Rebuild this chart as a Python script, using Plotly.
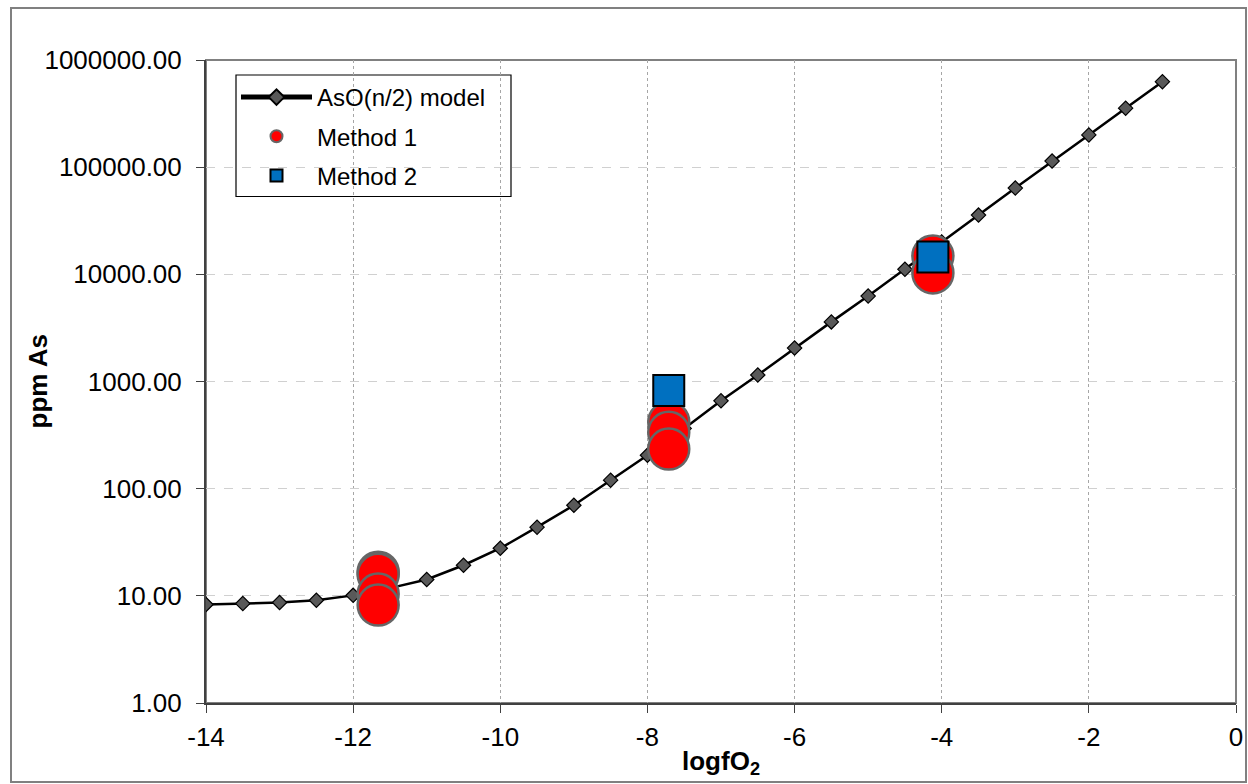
import plotly.graph_objects as go

# ---- data ----
model_x = [-14, -13.5, -13, -12.5, -12, -11.5, -11, -10.5, -10, -9.5, -9, -8.5, -8,
           -7.5, -7, -6.5, -6, -5.5, -5, -4.5, -4, -3.5, -3, -2.5, -2, -1.5, -1]
model_y = [8.3, 8.47, 8.66, 9.1, 10.1, 11.8, 14.2, 19.3, 27.8, 43.7, 70, 120, 205,
           365, 660, 1150, 2050, 3600, 6270, 11130, 20000, 35700, 63800, 114000,
           200000, 355000, 628000]

m1_x = [-11.66, -11.66, -11.66, -11.66, -7.71, -7.71, -7.71, -4.12, -4.12]
m1_y = [16.6, 15.9, 10.4, 8.2, 417, 336, 234, 14800, 10300]

m2_x = [-7.71, -4.12]
m2_y = [824, 14500]

y_ticks = [1, 10, 100, 1000, 10000, 100000, 1000000]
y_ticktext = [f"{v:.2f}" for v in y_ticks]
x_ticks = [-14, -12, -10, -8, -6, -4, -2, 0]
x_ticktext = [str(v) for v in x_ticks]

FONT = "Liberation Sans, Arial, sans-serif"
W, H = 1248, 784
L, R, T, B = 206, 12, 60, 81
PW, PH = W - L - R, H - T - B


def px_x(p):
    return (p - L) / PW


def px_y(p):
    return (H - B - p) / PH


fig = go.Figure()
fig.add_trace(go.Scatter(
    x=model_x, y=model_y, mode="lines+markers", name="AsO(n/2) model",
    line=dict(color="black", width=2.5),
    marker=dict(symbol="diamond", size=11, color="#595959",
                line=dict(color="black", width=1.2)),
    legendgroup="a"))
fig.add_trace(go.Scatter(
    x=m1_x, y=m1_y, mode="markers", name="Method 1",
    marker=dict(symbol="circle", size=41, color="#FF0000",
                line=dict(color="#666666", width=2.5)),
    legendgroup="b"))
fig.add_trace(go.Scatter(
    x=m2_x, y=m2_y, mode="markers", name="Method 2",
    marker=dict(symbol="square", size=31, color="#0070C0",
                line=dict(color="black", width=2)),
    legendgroup="c"))

fig.update_layout(
    width=W, height=H, autosize=False,
    margin=dict(l=L, r=R, t=T, b=B, pad=0, autoexpand=False),
    paper_bgcolor="white", plot_bgcolor="white",
    font=dict(family=FONT, size=26, color="black"),
    showlegend=True,
    legend=dict(x=px_x(236), y=px_y(75), xanchor="left", yanchor="top",
                bgcolor="rgba(0,0,0,0)", borderwidth=0,
                font=dict(size=24), itemsizing="constant", itemwidth=71,
                tracegroupgap=5),
    xaxis=dict(range=[-14, 0], tickvals=x_ticks, ticktext=x_ticktext,
               automargin=False,
               showgrid=True, gridcolor="#a6a6a6", griddash="dot", gridwidth=1,
               showline=True, linecolor="#404040", linewidth=2,
               ticks="outside", ticklen=8, tickcolor="#404040",
               tickfont=dict(size=26), zeroline=False, ticklabelstandoff=2),
    yaxis=dict(type="log", range=[0, 6], tickvals=y_ticks, ticktext=y_ticktext,
               automargin=False,
               showgrid=True, gridcolor="#d0d0d0", griddash="dash", gridwidth=1,
               showline=True, linecolor="#404040", linewidth=2,
               ticks="outside", ticklen=8, tickcolor="#404040",
               tickfont=dict(size=26), zeroline=False, ticklabelstandoff=9),
    shapes=[
        dict(type="rect", xref="paper", yref="paper", x0=0, x1=1, y0=0, y1=1,
             line=dict(color="#808080", width=2), layer="below"),
        dict(type="rect", xref="paper", yref="paper",
             x0=px_x(11), x1=px_x(1246), y0=px_y(782), y1=px_y(8),
             line=dict(color="#808080", width=2), layer="below"),
        dict(type="rect", xref="paper", yref="paper",
             x0=px_x(236), x1=px_x(511), y0=px_y(196.5), y1=px_y(75),
             line=dict(color="black", width=1.2), fillcolor="white",
             layer="between"),
    ],
    annotations=[
        dict(text="<b>ppm As</b>", xref="paper", yref="paper",
             x=px_x(37), y=0.5, textangle=-90, showarrow=False,
             xanchor="center", yanchor="middle", font=dict(size=26)),
        dict(text="<b>logfO<sub>2</sub></b>", xref="paper", yref="paper",
             x=0.5, y=px_y(762), showarrow=False,
             xanchor="center", yanchor="middle", font=dict(size=26)),
    ],
)

fig.write_html(
    "out.html", config={"displayModeBar": False, "responsive": False},
    post_script=(
        "document.body.style.margin='0';"
        "document.body.style.overflow='hidden';"
    ))
